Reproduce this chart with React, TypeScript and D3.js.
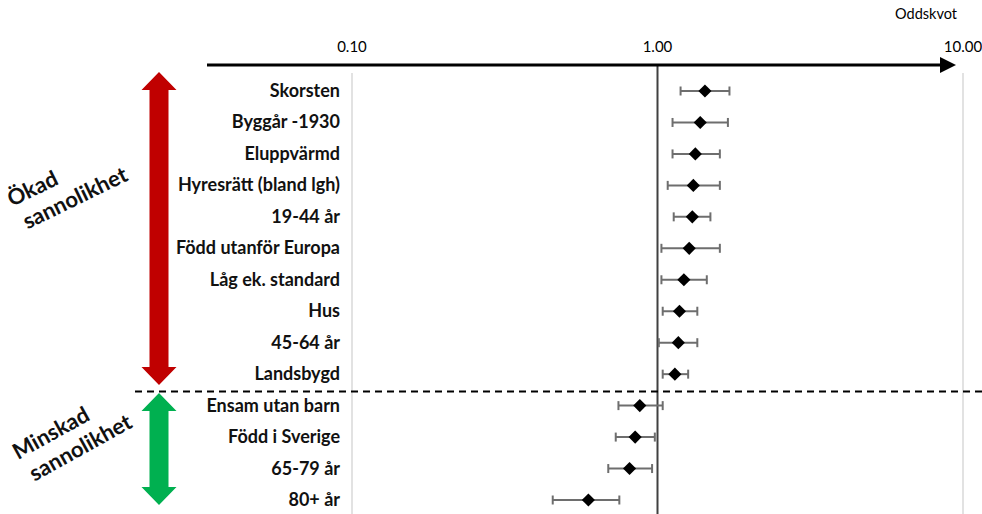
import { useEffect, useRef } from "react";
import * as d3 from "d3";

const categories = [
  "Skorsten",
  "Byggår -1930",
  "Eluppvärmd",
  "Hyresrätt (bland lgh)",
  "19-44 år",
  "Född utanför Europa",
  "Låg ek. standard",
  "Hus",
  "45-64 år",
  "Landsbygd",
  "Ensam utan barn",
  "Född i Sverige",
  "65-79 år",
  "80+ år",
];
const oddsRatio = [1.43, 1.38, 1.33, 1.31, 1.3, 1.27, 1.22, 1.18, 1.17, 1.14, 0.875, 0.845, 0.81, 0.594];
const ciLow = [1.19, 1.12, 1.12, 1.08, 1.13, 1.03, 1.03, 1.04, 1.01, 1.04, 0.745, 0.73, 0.69, 0.454];
const ciHigh = [1.72, 1.7, 1.6, 1.6, 1.49, 1.6, 1.45, 1.35, 1.35, 1.26, 1.04, 0.98, 0.96, 0.75];
const tickValues = [0.1, 1, 10];
const increasedCount = 10;

const FONT = "Lato, 'Open Sans', sans-serif";

export default function App() {
  const svgRef = useRef<SVGSVGElement | null>(null);

  useEffect(() => {
    if (!svgRef.current) return;
    const svg = d3.select(svgRef.current);
    svg.selectAll("*").remove();

    const width = 982;
    const height = 514;
    const axisY = 65;

    const x = d3.scaleLog().domain([0.1, 10]).range([352, 963]);
    const y = d3
      .scalePoint<string>()
      .domain(categories)
      .range([91, 500]);

    const rows = categories.map((name, i) => ({
      name,
      or: oddsRatio[i],
      lo: ciLow[i],
      hi: ciHigh[i],
    }));

    svg.attr("viewBox", `0 0 ${width} ${height}`);
    svg.append("rect").attr("width", width).attr("height", height).attr("fill", "#fff");

    // light gridlines at 0.1 and 10
    svg
      .selectAll("line.grid")
      .data([0.1, 10])
      .join("line")
      .attr("class", "grid")
      .attr("x1", (d) => x(d))
      .attr("x2", (d) => x(d))
      .attr("y1", 73)
      .attr("y2", height)
      .attr("stroke", "#d9d9d9")
      .attr("stroke-width", 1.5);

    // reference line at 1.00
    svg
      .append("line")
      .attr("x1", x(1))
      .attr("x2", x(1))
      .attr("y1", axisY)
      .attr("y2", height)
      .attr("stroke", "#404040")
      .attr("stroke-width", 2);

    // top axis with arrow
    svg
      .append("line")
      .attr("x1", 207)
      .attr("x2", 942)
      .attr("y1", axisY)
      .attr("y2", axisY)
      .attr("stroke", "#000")
      .attr("stroke-width", 3);
    svg
      .append("path")
      .attr("d", `M940,${axisY - 8} L956,${axisY} L940,${axisY + 8} Z`)
      .attr("fill", "#000");

    svg
      .selectAll("text.tick")
      .data(tickValues)
      .join("text")
      .attr("class", "tick")
      .attr("x", (d) => x(d))
      .attr("y", 52)
      .attr("text-anchor", "middle")
      .attr("font-family", FONT)
      .attr("font-size", 15)
      .attr("fill", "#000")
      .text((d) => d3.format(".2f")(d));

    svg
      .append("text")
      .attr("x", 926)
      .attr("y", 19)
      .attr("text-anchor", "middle")
      .attr("font-family", FONT)
      .attr("font-size", 14.5)
      .attr("fill", "#000")
      .text("Oddskvot");

    // dashed separator
    const sepY = ((y(categories[increasedCount - 1]) ?? 0) + (y(categories[increasedCount]) ?? 0)) / 2 + 1.5;
    svg
      .append("line")
      .attr("x1", 135)
      .attr("x2", width)
      .attr("y1", sepY)
      .attr("y2", sepY)
      .attr("stroke", "#000")
      .attr("stroke-width", 2)
      .attr("stroke-dasharray", "7,5");

    // category labels
    svg
      .selectAll("text.cat")
      .data(rows)
      .join("text")
      .attr("class", "cat")
      .attr("x", 340)
      .attr("y", (d) => (y(d.name) ?? 0) + 6)
      .attr("text-anchor", "end")
      .attr("font-family", FONT)
      .attr("font-weight", 700)
      .attr("font-size", 18)
      .attr("fill", "#111")
      .text((d) => d.name);

    // error bars
    const bars = svg.selectAll("g.ci").data(rows).join("g").attr("class", "ci");
    bars
      .append("line")
      .attr("x1", (d) => x(d.lo))
      .attr("x2", (d) => x(d.hi))
      .attr("y1", (d) => y(d.name) ?? 0)
      .attr("y2", (d) => y(d.name) ?? 0)
      .attr("stroke", "#6e6e6e")
      .attr("stroke-width", 2);
    for (const key of ["lo", "hi"] as const) {
      bars
        .append("line")
        .attr("x1", (d) => x(d[key]))
        .attr("x2", (d) => x(d[key]))
        .attr("y1", (d) => (y(d.name) ?? 0) - 4.5)
        .attr("y2", (d) => (y(d.name) ?? 0) + 4.5)
        .attr("stroke", "#6e6e6e")
        .attr("stroke-width", 2);
    }

    // diamonds
    svg
      .selectAll("path.pt")
      .data(rows)
      .join("path")
      .attr("class", "pt")
      .attr("d", d3.symbol(d3.symbolDiamond2, 110)())
      .attr("transform", (d) => `translate(${x(d.or)},${y(d.name)})`)
      .attr("fill", "#000");

    // double-headed block arrows
    const arrow = (cx: number, top: number, bottom: number, color: string) => {
      const sw = 9.5;
      const hw = 17.5;
      const hh = 18;
      const d = [
        `M${cx},${top}`,
        `L${cx + hw},${top + hh}`,
        `L${cx + sw},${top + hh}`,
        `L${cx + sw},${bottom - hh}`,
        `L${cx + hw},${bottom - hh}`,
        `L${cx},${bottom}`,
        `L${cx - hw},${bottom - hh}`,
        `L${cx - sw},${bottom - hh}`,
        `L${cx - sw},${top + hh}`,
        `L${cx - hw},${top + hh}`,
        "Z",
      ].join(" ");
      svg.append("path").attr("d", d).attr("fill", color);
    };
    arrow(159, 72, 385, "#c00000");
    arrow(159, 393, 505, "#00b050");

    // rotated side labels
    const sideLabel = (tx: number, ty: number, angle: number, lines: string[]) => {
      const t = svg
        .append("text")
        .attr("transform", `translate(${tx},${ty}) rotate(${angle})`)
        .attr("font-family", FONT)
        .attr("font-weight", 700)
        .attr("font-size", 22)
        .attr("fill", "#111");
      lines.forEach((line, i) => {
        t.append("tspan")
          .attr("x", i * 4)
          .attr("dy", i === 0 ? 0 : 27)
          .text(line);
      });
    };
    sideLabel(12, 207, -26, ["Ökad", "sannolikhet"]);
    sideLabel(18, 460, -29, ["Minskad", "sannolikhet"]);
  }, []);

  return (
    <div style={{ position: "absolute", left: 0, top: 0 }}>
      <svg ref={svgRef} width={982} height={514} style={{ display: "block" }} />
    </div>
  );
}
